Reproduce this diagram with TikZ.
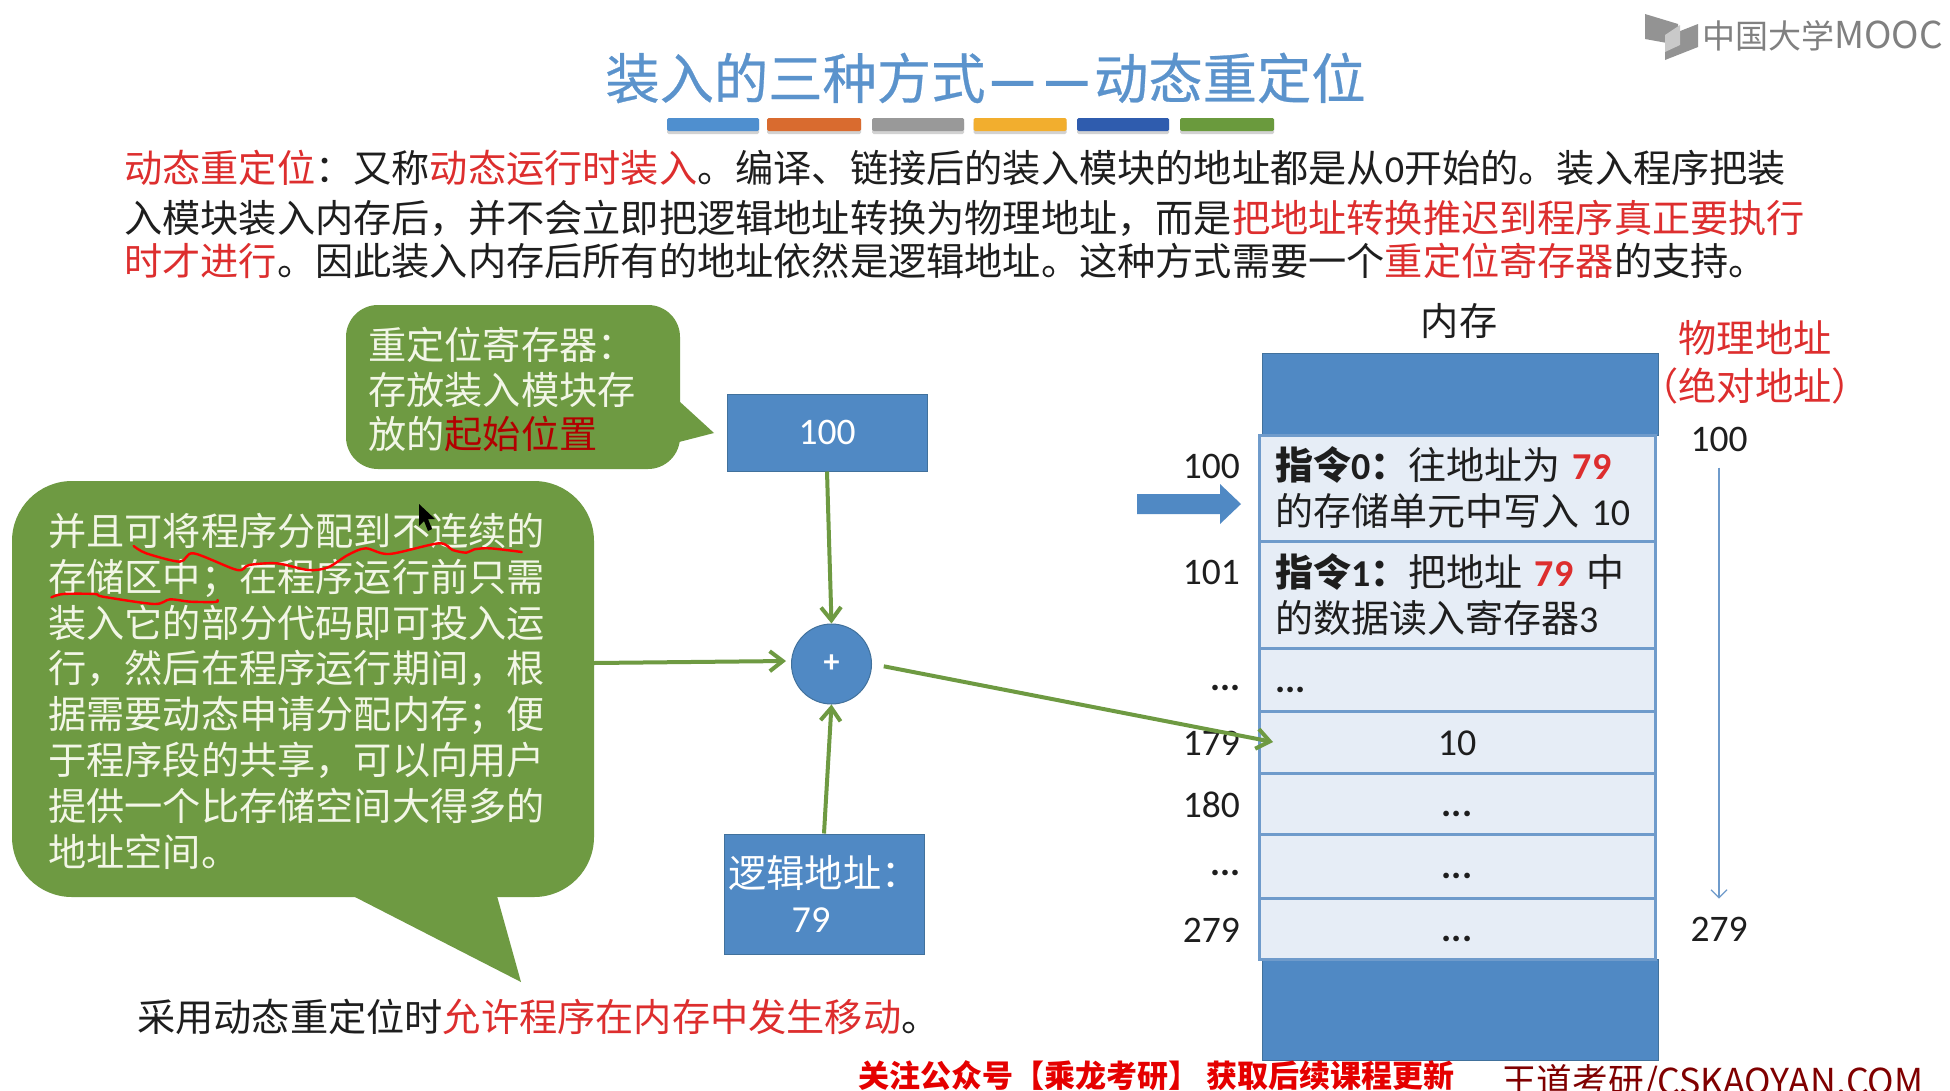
\documentclass[tikz,border=0pt]{standalone}
\usepackage{fontspec}
\usetikzlibrary{arrows.meta,shadows}
\setmainfont[Numbers=Lining]{Carlito}
\newfontfamily\cjk{Noto Sans CJK SC}
\newfontfamily\cjktitle[FakeBold=0.5]{Noto Sans CJK SC}
\newfontfamily\cjkdash[FakeBold=3]{Noto Sans CJK SC}
\definecolor{boxblue}{HTML}{5089C4}
\definecolor{boxedge}{HTML}{41719C}
\definecolor{cellfill}{HTML}{E6EDF6}
\definecolor{celledge}{HTML}{6F9BCB}
\definecolor{callgreen}{HTML}{6E9A42}
\definecolor{cream}{HTML}{F2F6E6}
\definecolor{redtxt}{HTML}{DD2E2E}
\definecolor{titleblue}{HTML}{5B93CC}
\definecolor{inktxt}{HTML}{1E1E1E}
\definecolor{barblue}{HTML}{4F8FCF}
\definecolor{barorange}{HTML}{D96B2F}
\definecolor{bargray}{HTML}{999999}
\definecolor{baryellow}{HTML}{F2AE2E}
\definecolor{bardark}{HTML}{2F5CAE}
\definecolor{bargreen}{HTML}{6A9A3D}
\newcommand{\rt}[1]{{\color{redtxt}#1}}
\newcommand{\lat}[1]{{\rmfamily #1}}
\newcommand{\lowdots}{\rule{0pt}{26pt}{\rmfamily\bfseries ...}}
\newcommand{\tdash}{\makebox[1em]{\scalebox{0.92}[1]{{\cjkdash —}}}}
\tikzset{
  txt/.style={inner sep=0pt,font=\fontsize{38.2}{45}\cjk,text=inktxt},
  lbl/.style={txt,align=left,anchor=west},
  num/.style={inner sep=0pt,font=\fontsize{37.5}{45}\rmfamily,text=inktxt},
  bluebox/.style={rectangle,fill=boxblue,draw=boxedge,line width=1pt,inner sep=0pt,text=white},
  memcell/.style={rectangle,fill=cellfill,draw=celledge,line width=3pt,minimum width=396pt,inner sep=0pt,font=\fontsize{38}{46}\cjk,text=inktxt},
  callout/.style={rectangle,fill=callgreen,inner sep=0pt},
  calltxt/.style={inner sep=0pt,align=left,anchor=north west,text=cream},
  flow/.style={draw=callgreen,line width=4pt,-{Straight Barb[length=13pt,width=20pt,line width=4pt]}},
  bar/.style={inner sep=0pt,minimum height=13pt,rounded corners=1.5pt,drop shadow={shadow xshift=0pt,shadow yshift=-3pt,opacity=0.35}},
  scribble/.style={draw=red,line width=2.4pt,line cap=round,line join=round}
}
\begin{document}
\begin{tikzpicture}[x=1pt,y=-1pt]
\clip (0,0) rectangle (1950,1090);
\fill[white] (0,0) rectangle (1950,1090);

% logo
\fill[gray!85] (1645,14) -- (1678,24) -- (1678,45) -- (1645,39) -- cycle;
\fill[gray!85] (1665,37) -- (1698,24) -- (1698,47) -- (1665,60) -- cycle;
\fill[gray!130!black!60] (1665,35) -- (1680,25) -- (1680,45) -- (1665,52) -- cycle;
\node[inner sep=0pt,anchor=west,text=gray,font=\fontsize{33}{36}\cjk] (logo) at (1702,36) {中国大学{\fontsize{37}{40}\selectfont MOOC}};

% title
\node[inner sep=0pt,text=titleblue,font=\fontsize{54.3}{60}\cjktitle] (title) at (985.5,78) {装入的三种方式\tdash\tdash 动态重定位};
\node[bar,fill=barblue,minimum width=92pt] (b1) at (713,124.5) {};
\node[bar,fill=barorange,minimum width=94pt] (b2) at (814,124.5) {};
\node[bar,fill=bargray,minimum width=92pt] (b3) at (918,124.5) {};
\node[bar,fill=baryellow,minimum width=93pt] (b4) at (1020,124.5) {};
\node[bar,fill=bardark,minimum width=92pt] (b5) at (1123,124.5) {};
\node[bar,fill=bargreen,minimum width=94pt] (b6) at (1227,124.5) {};

% paragraph
\node[lbl] (p1) at (124,168) {\rt{动态重定位}：又称\rt{动态运行时装入}。编译、链接后的装入模块的地址都是从\lat{0}开始的。装入程序把装};
\node[lbl] (p2) at (124,218) {入模块装入内存后，并不会立即把逻辑地址转换为物理地址，而是\rt{把地址转换推迟到程序真正要执行}};
\node[lbl] (p3) at (124,261) {\rt{时才进行}。因此装入内存后所有的地址依然是逻辑地址。这种方式需要一个\rt{重定位寄存器}的支持。};

% callout A
\node[callout,rounded corners=32pt,minimum width=334pt,minimum height=164pt] (callA) at (513,387) {};
\fill[callgreen] (679,401) -- (714,433) -- (679,442) -- cycle;
\node[calltxt,font=\fontsize{38.2}{44.5}\cjk] (callAt) at (368,327) {重定位寄存器：\\存放装入模块存\\放的{\color{red!70!black}起始位置}};

% callout B
\fill[callgreen] (353,896) -- (521,982) -- (497,896) -- cycle;
\node[callout,rounded corners=60pt,minimum width=582pt,minimum height=416pt] (callB) at (303,689) {};
\node[calltxt,font=\fontsize{38.2}{45.8}\cjk] (callBt) at (48,513) {并且可将程序分配到不连续的\\存储区中；在程序运行前只需\\装入它的部分代码即可投入运\\行，然后在程序运行期间，根\\据需要动态申请分配内存；便\\于程序段的共享，可以向用户\\提供一个比存储空间大得多的\\地址空间。};

% red scribbles and mouse pointer
\begin{scope}[x=0.3953pt,y=-0.3333pt,yshift=-470pt]
\draw[scribble] plot[smooth,tension=0.5] coordinates {(338,228) (370,250) (455,275) (490,250) (600,300) (630,285) (700,280) (780,300) (830,292) (880,255) (925,235) (985,252) (1110,220) (1145,240) (1180,248) (1200,238) (1240,235) (1320,246)};
\draw[scribble] plot[smooth,tension=0.5] coordinates {(130,382) (160,372) (240,372) (260,380) (390,402) (430,388) (480,395) (545,396) (550,390)};
\end{scope}
\fill[black] (419,504) -- (419,526) -- (424,521) -- (428,531) -- (432,529) -- (428,519) -- (435,519) -- cycle;

% adder inputs
\node[bluebox,minimum width=200pt,minimum height=77pt,font=\fontsize{37.5}{45}\rmfamily] (box100) at (827,432.5) {100};
\node[bluebox,minimum width=200pt,minimum height=120pt,font=\fontsize{38.2}{45}\cjk,align=center] (logic) at (824,894) {逻辑地址：\\\lat{79}\hspace*{26pt}};
\node[circle,fill=boxblue,draw=boxedge,line width=1pt,minimum size=80pt,inner sep=0pt,text=white,font=\fontsize{32}{36}\rmfamily\bfseries] (plus) at (831.5,664) {+};

% memory
\node[txt] (memt) at (1459,321) {内存};
\node[txt,text=redtxt] (ph1) at (1755,338) {物理地址};
\node[txt,text=redtxt] (ph2) at (1755,386) {（绝对地址）};
\node[bluebox,minimum width=396pt,minimum height=82pt] (memtop) at (1460,394) {};
\node[bluebox,minimum width=396pt,minimum height=101pt] (membot) at (1460,1010) {};
\node[memcell,minimum height=106pt,text width=364pt,align=left] (c0) at (1457,488) {{\bfseries 指令\lat{0}：}往地址为 {\rmfamily\bfseries\color{redtxt}79}\\的存储单元中写入 \lat{10}};
\node[memcell,minimum height=107pt,text width=364pt,align=left] (c1) at (1457,594.5) {{\bfseries 指令\lat{1}：}把地址 {\rmfamily\bfseries\color{redtxt}79} 中\\的数据读入寄存器\lat{3}};
\node[memcell,minimum height=63pt,text width=364pt,align=left] (c2) at (1457,679.5) {\lowdots};
\node[memcell,minimum height=62pt] (c3) at (1457,742) {\rule{0pt}{28pt}\lat{10}};
\node[memcell,minimum height=61pt] (c4) at (1457,803.5) {\lowdots};
\node[memcell,minimum height=64pt] (c5) at (1457,866) {\lowdots};
\node[memcell,minimum height=61pt] (c6) at (1457,928.5) {\lowdots};

% left addresses
\node[num,anchor=east] (a100) at (1240,466) {100};
\node[num,anchor=east] (a101) at (1240,572) {101};
\node[num,anchor=east,font=\fontsize{37.5}{45}\rmfamily\bfseries] (adots1) at (1241,688) {...};
\node[num,anchor=east] (a179) at (1240,743) {179};
\node[num,anchor=east] (a180) at (1240,805) {180};
\node[num,anchor=east,font=\fontsize{37.5}{45}\rmfamily\bfseries] (adots2) at (1241,873) {...};
\node[num,anchor=east] (a279) at (1240,930) {279};

% right addresses
\node[num] (r100) at (1719,439) {100};
\node[num] (r279) at (1719,929) {279};
\draw[draw=celledge,line width=1.3pt,-{Straight Barb[length=8pt,width=16pt,line width=1.3pt]},shorten <=16pt,shorten >=18pt] (r100.south) -- (r279.north);

% pointer arrow
\fill[boxblue] (1137,494) -- (1220,494) -- (1220,484) -- (1241,504) -- (1220,524) -- (1220,514) -- (1137,514) -- cycle;

% flows
\coordinate (fromB) at (594,663);
\coordinate (toPlus) at (786,661);
\coordinate (to179) at (1273,742);
\draw[flow] (box100.south) -- (plus.north);
\draw[flow] (logic.north) -- (plus.south);
\draw[flow] (fromB) -- (toPlus);
\draw[flow,shorten <=12pt] (plus.east) -- (to179);

% bottom text
\node[lbl] (note) at (137,1017) {采用动态重定位时\rt{允许程序在内存中发生移动}。};
\node[inner sep=0pt,anchor=west,text=red!90!black,font=\fontsize{31}{34}\cjk\bfseries] (wm1) at (858,1076) {关注公众号【乘龙考研】 获取后续课程更新};
\node[inner sep=0pt,anchor=west,text=red!50!black,font=\fontsize{35.7}{38}\cjk] (wm2) at (1501,1083) {王道考研/CSKAOYAN.COM};
\end{tikzpicture}
\end{document}
